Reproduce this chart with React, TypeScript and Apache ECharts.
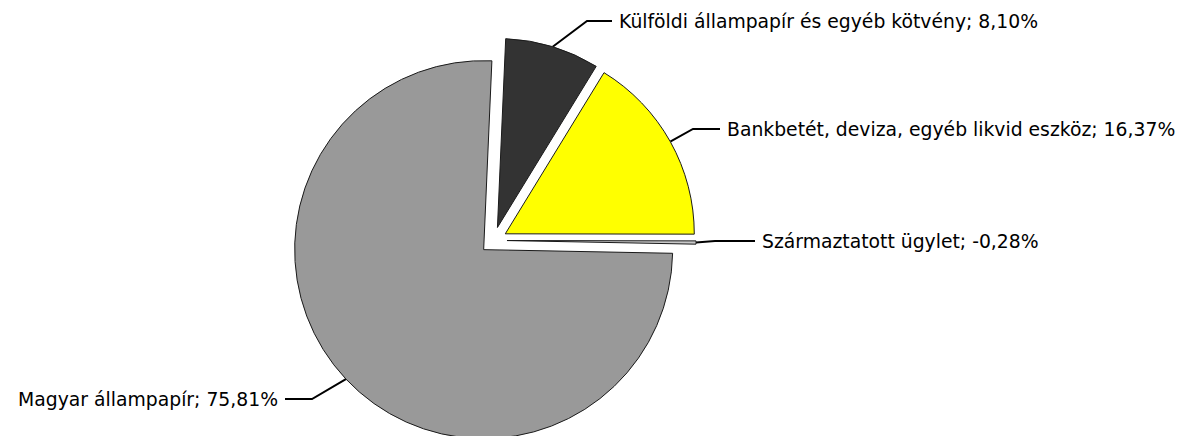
import React, { useEffect, useRef } from 'react';
import * as echarts from 'echarts';

// ---- data ----
const CATEGORIES: string[] = [
  'Külföldi állampapír és egyéb kötvény',
  'Bankbetét, deviza, egyéb likvid eszköz',
  'Származtatott ügylet',
  'Magyar állampapír',
];
const VALUES: number[] = [8.1, 16.37, -0.28, 75.81];

// ---- styles / layout ----
const COLORS = ['#333333', '#ffff00', '#c8c8c8', '#999999'];
const CENTER = [493.5, 240.4];
const RADIUS = 189;
const EXPLODE = 13.5;
const START_CW_DEG = 2.5; // clockwise from 12 o'clock
// label text anchors: [x, y middle]; left-aligned except the last (right-aligned)
const LABEL_POS: number[][] = [
  [619, 21],
  [727, 129],
  [762, 241],
  [278, 399],
];
const LABEL_ALIGN = ['left', 'left', 'left', 'right'];
const LABEL_HSEG = [25, 27, 40, 27];
const LABEL_GAP = 7;

const fmt = (v: number) => v.toFixed(2).replace('.', ',') + '%';

export default function App() {
  const ref = useRef<HTMLDivElement>(null);
  useEffect(() => {
    if (!ref.current) return;
    const chart = echarts.init(ref.current, undefined, { renderer: 'svg' });
    const abs = VALUES.map((v) => Math.abs(v));
    const total = abs.reduce((a, b) => a + b, 0);
    let cum = 0;
    const series: any[] = CATEGORIES.map((_, i) => {
      const midDeg = START_CW_DEG + ((cum + abs[i] / 2) / total) * 360;
      cum += abs[i];
      const rad = (midDeg * Math.PI) / 180;
      const cx = CENTER[0] + EXPLODE * Math.sin(rad);
      const cy = CENTER[1] - EXPLODE * Math.cos(rad);
      return {
        type: 'pie',
        center: [cx, cy],
        radius: RADIUS,
        startAngle: 90 - START_CW_DEG,
        clockwise: true,
        avoidLabelOverlap: false,
        silent: true,
        emphasis: { disabled: true },
        data: CATEGORIES.map((name, j) =>
          j === i
            ? {
                name,
                value: abs[j],
                itemStyle: { color: COLORS[j], borderColor: '#1a1a1a', borderWidth: 1 },
                label: {
                  show: true,
                  formatter: () => `${name}; ${fmt(VALUES[j])}`,
                },
                labelLine: { show: true },
              }
            : {
                name,
                value: abs[j],
                itemStyle: { color: 'rgba(0,0,0,0)', borderWidth: 0 },
                label: { show: false },
                labelLine: { show: false },
              }
        ),
        label: {
          position: 'outside',
          color: '#000',
          fontFamily: 'DejaVu Sans',
          fontSize: 18.8,
        },
        labelLine: {
          length: 20,
          length2: 20,
          lineStyle: { color: '#000', width: 2 },
        },
        labelLayout: (params: any) => {
          if (params.dataIndex !== i) return {};
          const [x, y] = LABEL_POS[i];
          const align = LABEL_ALIGN[i];
          const dir = align === 'left' ? -1 : 1;
          const p0 = params.labelLinePoints ? params.labelLinePoints[0] : [x, y];
          const end = [x + dir * LABEL_GAP, y];
          const elbow = [x + dir * (LABEL_GAP + LABEL_HSEG[i]), y];
          return {
            x,
            y,
            align,
            verticalAlign: 'middle',
            labelLinePoints: [p0, elbow, end],
          };
        },
      };
    });
    chart.setOption({
      animation: false,
      backgroundColor: '#ffffff',
      series,
    });
    return () => chart.dispose();
  }, []);
  return (
    <div
      ref={ref}
      style={{ position: 'absolute', left: 0, top: 0, width: 1180, height: 436 }}
    />
  );
}
